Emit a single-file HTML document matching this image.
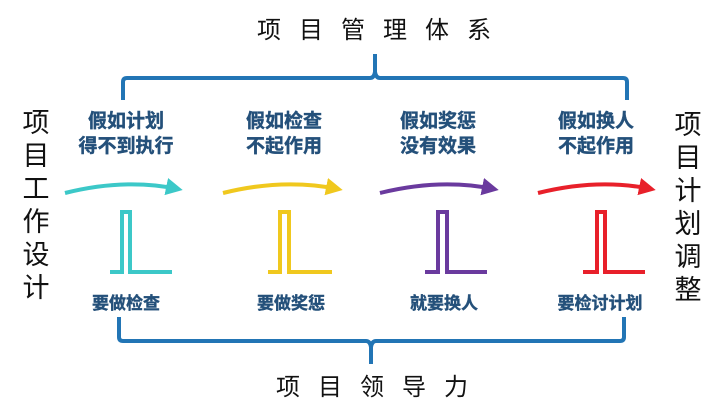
<!DOCTYPE html>
<html><head><meta charset="utf-8"><style>
body{margin:0;width:720px;height:408px;background:#fff;overflow:hidden}
</style></head><body>
<svg width="720" height="408" viewBox="0 0 720 408" xmlns="http://www.w3.org/2000/svg">
<defs>
<marker id="ac" markerWidth="5" markerHeight="5" refX="3" refY="2.5" orient="auto" markerUnits="strokeWidth"><path d="M0,0.3 L4.2,2.5 L0,4.7 z" fill="#3cc8c8"/></marker>
<marker id="ay" markerWidth="5" markerHeight="5" refX="3" refY="2.5" orient="auto" markerUnits="strokeWidth"><path d="M0,0.3 L4.2,2.5 L0,4.7 z" fill="#f0c81e"/></marker>
<marker id="ap" markerWidth="5" markerHeight="5" refX="3" refY="2.5" orient="auto" markerUnits="strokeWidth"><path d="M0,0.3 L4.2,2.5 L0,4.7 z" fill="#6a3a9e"/></marker>
<marker id="ar" markerWidth="5" markerHeight="5" refX="3" refY="2.5" orient="auto" markerUnits="strokeWidth"><path d="M0,0.3 L4.2,2.5 L0,4.7 z" fill="#e8202a"/></marker>
</defs>
<g font-family="Liberation Sans, Noto Sans CJK SC, sans-serif">
<text x="383" y="38" font-size="24" text-anchor="middle" fill="#111" letter-spacing="18">项目管理体系</text>
<text x="381" y="395" font-size="24" text-anchor="middle" fill="#111" letter-spacing="18">项目领导力</text>
<g font-size="27" fill="#111" text-anchor="middle">
<text x="36" y="132">项</text><text x="36" y="165">目</text><text x="36" y="198">工</text><text x="36" y="231">作</text><text x="36" y="264">设</text><text x="36" y="297">计</text>
<text x="688" y="134">项</text><text x="688" y="167">目</text><text x="688" y="200">计</text><text x="688" y="233">划</text><text x="688" y="266">调</text><text x="688" y="299">整</text>
</g>
<g font-size="19" font-weight="bold" fill="#24507a" text-anchor="middle" stroke="#24507a" stroke-width="0.4">
<text x="126" y="127">假如计划</text><text x="126" y="152">得不到执行</text>
<text x="284" y="127">假如检查</text><text x="284" y="152">不起作用</text>
<text x="438" y="127">假如奖惩</text><text x="438" y="152">没有效果</text>
<text x="596" y="127">假如换人</text><text x="596" y="152">不起作用</text>
</g>
<g font-size="17" font-weight="bold" fill="#24507a" text-anchor="middle" stroke="#24507a" stroke-width="0.4">
<text x="126" y="309">要做检查</text><text x="291" y="309">要做奖惩</text>
<text x="444" y="309">就要换人</text><text x="600" y="309">要检讨计划</text>
</g>
</g>
<g fill="none" stroke="#2275b5" stroke-width="4" stroke-linejoin="round">
<path d="M123,100 V82 Q123,78 127,78 H370 Q374,78 375,72 V54 M375,72 Q376,78 380,78 H623 Q627,78 627,82 V100"/>
<path d="M119,317 V337 Q119,341 123,341 H366 Q370,341 371,347 V364 M371,347 Q372,341 376,341 H620 Q624,341 624,337 V317"/>
</g>
<g fill="none" stroke-width="4">
<path d="M65,193 Q125,178 178,189" stroke="#3cc8c8" marker-end="url(#ac)"/>
<path d="M223,193 Q283,178 338,189" stroke="#f0c81e" marker-end="url(#ay)"/>
<path d="M380,193 Q440,178 494,189" stroke="#6a3a9e" marker-end="url(#ap)"/>
<path d="M538,193 Q598,178 651,189" stroke="#e8202a" marker-end="url(#ar)"/>
<path d="M110,272 H122 V212 H130 V272 H172" stroke="#3cc8c8"/>
<path d="M268,272 H280 V212 H289 V272 H332" stroke="#f0c81e"/>
<path d="M425,272 H438 V212 H447 V272 H487" stroke="#6a3a9e"/>
<path d="M583,272 H597 V212 H605 V272 H645" stroke="#e8202a"/>
</g>
</svg>
</body></html>
